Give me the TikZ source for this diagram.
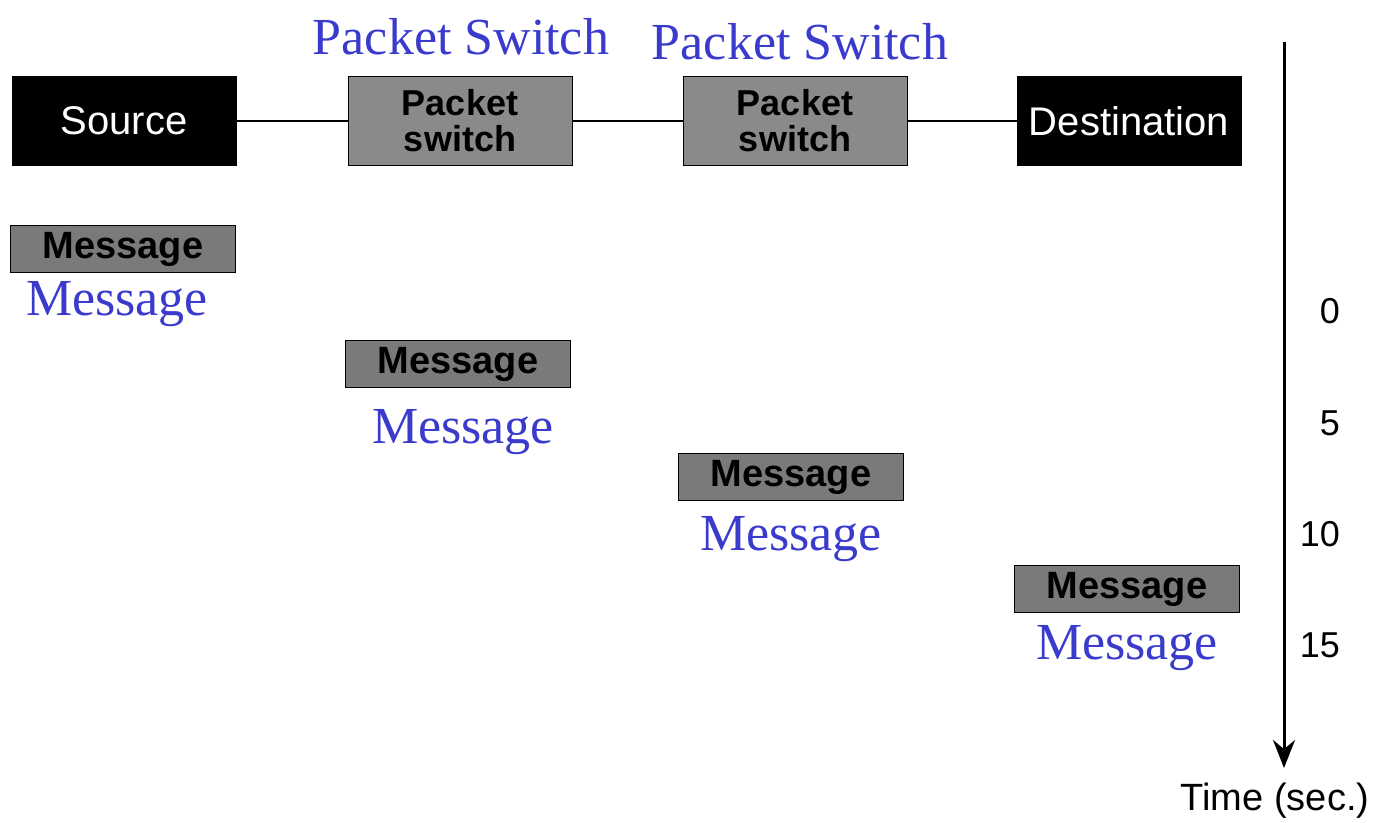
\documentclass[tikz,border=0pt]{standalone}
\usepackage{fontspec}
\setmainfont{Liberation Serif}
\setsansfont{Liberation Sans}
\definecolor{lblblue}{HTML}{3A3ACC}
\definecolor{boxgray}{HTML}{8A8A8A}
\definecolor{msggray}{HTML}{7A7A7A}
\usetikzlibrary{arrows.meta,positioning}

\begin{document}
\begin{tikzpicture}[
  x=1pt, y=-1pt,
  station/.style={draw=black, fill=black, text=white, minimum width=224pt,
    minimum height=89pt, inner sep=0pt, font=\sffamily\fontsize{40}{44}\selectfont},
  switchbox/.style={draw=black, fill=boxgray, text=black, minimum width=224pt,
    minimum height=89pt, inner sep=0pt, align=center,
    font=\sffamily\bfseries\fontsize{36}{36}\selectfont},
  msgbox/.style={draw=black, fill=msggray, text=black, minimum width=225pt,
    minimum height=47pt, inner sep=0pt,
    font=\sffamily\bfseries\fontsize{38}{40}\selectfont},
  bluelbl/.style={text=lblblue, inner sep=0pt, font=\fontsize{52}{56}\selectfont},
  tick/.style={anchor=east, inner sep=0pt, font=\sffamily\fontsize{36}{40}\selectfont}
]
  \useasboundingbox (0,0) rectangle (1373,822);

  % Stations along the path
  \node[station] (src) at (124,121) {Source};
  \node[switchbox] (sw1) at (460,121) {Packet\\switch};
  \node[switchbox] (sw2) at (795,121) {Packet\\switch};
  \node[station] (dst) at (1129,121) {Destination};
  \node[bluelbl] (sw1lbl) at (461,37) {Packet Switch};
  \node[bluelbl] (sw2lbl) at (800,42) {Packet Switch};

  % Links
  \draw[line width=1.5pt] (src) -- (sw1);
  \draw[line width=1.5pt] (sw1) -- (sw2);
  \draw[line width=1.5pt] (sw2) -- (dst);

  % Message at each hop
  \node[msgbox] (msg1) at (123,249) {Message};
  \node[msgbox] (msg2) at (458,364) {Message};
  \node[msgbox] (msg3) at (791,477) {Message};
  \node[msgbox] (msg4) at (1127,589) {Message};
  \node[bluelbl] (msg1lbl) at (117,304) {Message};
  \node[bluelbl] (msg2lbl) at (463,432) {Message};
  \node[bluelbl] (msg3lbl) at (791,539) {Message};
  \node[bluelbl] (msg4lbl) at (1127,648) {Message};

  % Time axis
  \coordinate (ttop) at (1284,42);
  \coordinate (tbot) at (1284,768);
  \draw[line width=3pt, -{Stealth[length=28pt,width=22pt]}] (ttop) -- (tbot);
  \node[tick] (t0) at (1340,311) {0};
  \node[tick] (t5) at (1340,423) {5};
  \node[tick] (t10) at (1340,534) {10};
  \node[tick] (t15) at (1340,645) {15};
  \node[font=\sffamily\fontsize{38}{40}\selectfont, inner sep=0pt] (tlbl) at (1275,801) {Time (sec.)};
\end{tikzpicture}
\end{document}
